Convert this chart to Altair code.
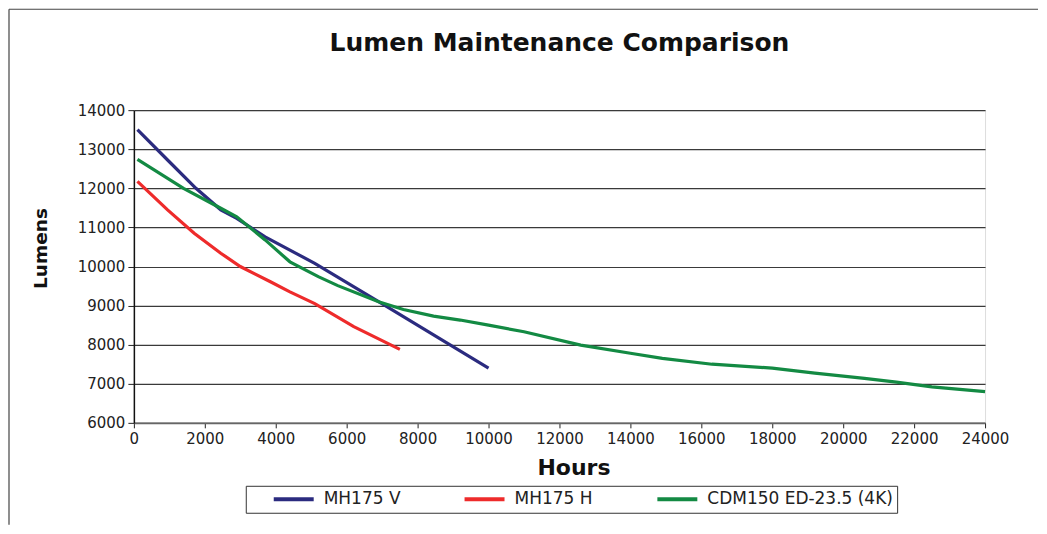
import altair as alt
import pandas as pd

# ---- data ----
series_names = ["MH175 V", "MH175 H", "CDM150 ED-23.5 (4K)"]
series_colors = ["#2B2B7F", "#EE2B2B", "#138A43"]

hours_v = [100, 1000, 1750, 2450, 2900, 3700, 4400, 5100, 6900, 10000]
lum_v = [13500, 12680, 12000, 11450, 11230, 10760, 10420, 10080, 9100, 7400]

hours_h = [100, 950, 1700, 2450, 3000, 3850, 4400, 5100, 6200, 7500]
lum_h = [12180, 11450, 10850, 10340, 10000, 9610, 9350, 9050, 8460, 7880]

hours_c = [100, 1400, 2450, 2900, 3700, 4400, 5200, 5750, 6900, 7600, 8450, 9200,
           10000, 11000, 12600, 14000, 14900, 16300, 18000, 19200, 20600, 21500,
           22500, 24000]
lum_c = [12740, 12000, 11490, 11270, 10680, 10120, 9740, 9510, 9100, 8900, 8730, 8630,
         8500, 8330, 7990, 7780, 7650, 7500, 7400, 7270, 7140, 7040,
         6920, 6800]

x_ticks = list(range(0, 24001, 2000))
y_ticks = list(range(6000, 14001, 1000))

rows = []
for name, hs, ls in zip(series_names, [hours_v, hours_h, hours_c], [lum_v, lum_h, lum_c]):
    for i, (h, l) in enumerate(zip(hs, ls)):
        rows.append({"series": name, "hours": h, "lumens": l, "order": i})
df = pd.DataFrame(rows)

FONT = "DejaVu Sans"

lines = alt.Chart(df).mark_line(strokeWidth=3.2).encode(
    x=alt.X("hours:Q",
            scale=alt.Scale(domain=[0, 24000], nice=False),
            axis=alt.Axis(values=x_ticks, title="Hours", grid=False, format="d",
                          titleX=440, titleY=45, titleBaseline="middle",
                          titleFontSize=22, titleFontWeight="bold", titleFont=FONT,
                          titleColor="#111",
                          labelFontSize=15, labelFont=FONT, labelColor="#222",
                          labelPadding=4, tickSize=5, tickColor="#222",
                          domainColor="#666", domainWidth=1.8, labelFlush=False)),
    y=alt.Y("lumens:Q",
            scale=alt.Scale(domain=[6000, 14000], nice=False, zero=False),
            axis=alt.Axis(values=y_ticks, title="Lumens", grid=True, format="d",
                          gridColor="#3a3a3a", gridWidth=1.2,
                          titleAngle=-90, titleX=-93, titleY=138,
                          titleAlign="center", titleBaseline="middle",
                          titleFontSize=18.5, titleFontWeight="bold", titleFont=FONT,
                          titleColor="#111",
                          labelFontSize=15, labelFont=FONT, labelColor="#222",
                          labelPadding=3, tickSize=6, tickColor="#222",
                          domainColor="#111", domainWidth=1.5)),
    color=alt.Color("series:N",
                    scale=alt.Scale(domain=series_names, range=series_colors),
                    legend=alt.Legend(title=None, orient="none", legendX=112, legendY=376,
                                      direction="horizontal", symbolType="stroke",
                                      symbolSize=1600, symbolStrokeWidth=4,
                                      symbolOffset=22, clipHeight=19,
                                      labelFontSize=17, labelFont=FONT, labelColor="#222",
                                      labelOffset=8, labelLimit=400,
                                      columnPadding=40, padding=4,
                                      strokeColor="#333")),
    order="order:Q",
)

frame_df = pd.DataFrame([{"k": 0}])
frame_left = alt.Chart(frame_df).mark_rule(color="#444", strokeWidth=1.2).encode(
    x=alt.value(-125), y=alt.value(-101), y2=alt.value(415))
frame_top = alt.Chart(frame_df).mark_rule(color="#444", strokeWidth=1.2).encode(
    x=alt.value(-125), x2=alt.value(905), y=alt.value(-101))

chart = alt.layer(lines, frame_left, frame_top).properties(
    width=852, height=313,
    padding=0,
    title=alt.TitleParams("Lumen Maintenance Comparison", font=FONT, fontSize=25,
                          fontWeight="bold", color="#111", anchor="middle",
                          frame="group", offset=-67, baseline="alphabetic"),
).configure_view(stroke=None).configure(background="white")

chart.save("out.html", embed_options={"renderer": "svg", "actions": False})
